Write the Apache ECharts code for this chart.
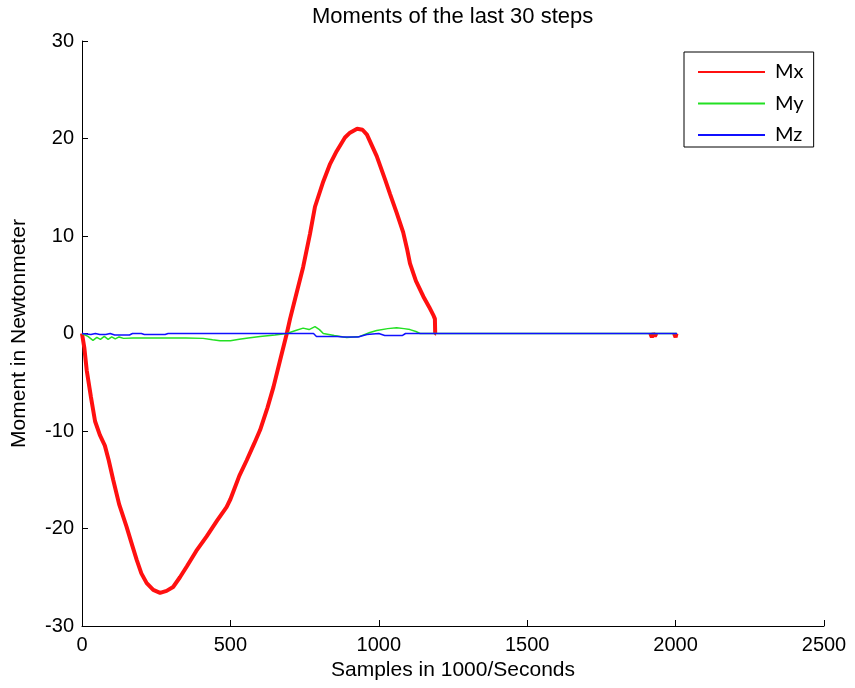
<!DOCTYPE html>
<html>
<head>
<meta charset="utf-8">
<script src="https://cdn.jsdelivr.net/npm/echarts@6/dist/echarts.min.js"></script>
<style>html,body{margin:0;padding:0;background:#fff}#c{width:855px;height:688px}</style>
</head>
<body>
<div id="c"></div>
<script>
var title = 'Moments of the last 30 steps';
var xName = 'Samples in 1000/Seconds';
var yName = 'Moment in Newtonmeter';
var seriesNames = ['Mx', 'My', 'Mz'];
var xTicks = [0, 500, 1000, 1500, 2000, 2500];
var yTicks = [-30, -20, -10, 0, 10, 20, 30];

// '-' marks a gap where the red trace is hidden under the blue one
var mxSamples = [0, 8, 16, 30, 44, 60, 77, 90, 105, 125, 150, 170, 184, 200, 218, 240, 263, 285, 307, 330, 353, 385, 420, 455, 487, 500, 510, 530, 555, 580, 600, 625, 645, 667, 690, 701, 720, 745, 768, 785, 813, 836, 858, 886, 903, 927, 945, 960, 993, 1021, 1038, 1060, 1082, 1095, 1105, 1125, 1150, 1170, 1185, 1189, 1190, 1193, 1500, 1915, 1920, 1925, 1930, 1935, 1940, 1995, 2000, 2003];
var mxValues  = [0, -1.5, -3.8, -6.5, -9.0, -10.4, -11.5, -13, -15, -17.5, -19.8, -21.8, -23.2, -24.6, -25.6, -26.3, -26.6, -26.4, -26, -25, -23.9, -22.3, -20.8, -19.2, -17.8, -17.0, -16.2, -14.6, -13, -11.3, -9.9, -7.6, -5.5, -2.8, 0, 1.5, 3.8, 6.8, 10.2, 13.0, 15.6, 17.4, 18.7, 20.1, 20.6, 21, 20.9, 20.4, 18.2, 15.8, 14.3, 12.4, 10.4, 8.7, 7.2, 5.4, 3.8, 2.7, 1.8, 1.5, 0, 0, '-', 0, -0.4, 0, -0.3, 0, '-', 0, -0.4, 0];

var mySamples = [0, 20, 37, 50, 62, 75, 88, 100, 112, 125, 140, 172, 250, 350, 408, 440, 465, 500, 530, 560, 600, 650, 690, 720, 745, 765, 785, 800, 813, 850, 892, 936, 970, 993, 1030, 1060, 1085, 1105, 1125, 1139, 1190, 1915, 1920, 1925, 1995, 2000, 2003];
var myValues  = [0, -0.3, -0.7, -0.4, -0.6, -0.3, -0.6, -0.35, -0.55, -0.35, -0.5, -0.45, -0.45, -0.45, -0.5, -0.65, -0.75, -0.75, -0.6, -0.45, -0.3, -0.15, 0, 0.3, 0.55, 0.4, 0.7, 0.4, 0, -0.2, -0.4, -0.3, 0.1, 0.3, 0.5, 0.6, 0.5, 0.4, 0.2, 0, 0, 0, 0.2, 0, 0, 0.15, 0];

var mzSamples = [0, 30, 45, 60, 80, 95, 110, 160, 170, 200, 210, 280, 290, 780, 790, 860, 880, 930, 960, 1000, 1020, 1080, 1090, 1915, 1920, 1925, 2005];
var mzValues  = [0, -0.1, 0, -0.1, -0.1, 0, -0.15, -0.15, 0, 0, -0.1, -0.1, 0, 0, -0.3, -0.3, -0.35, -0.35, -0.1, 0, -0.2, -0.2, 0, 0, 0.15, 0, 0];

function pairs(xs, ys) { return xs.map(function (x, i) { return [x, ys[i]]; }); }

var chart = echarts.init(document.getElementById('c'), null, {renderer: 'canvas'});
var font = 'Liberation Sans, Arial, sans-serif';
chart.setOption({
  animation: false,
  backgroundColor: '#fff',
  title: {
    text: title, left: 307, top: 1,
    textStyle: {fontFamily: font, fontSize: 22, fontWeight: 'normal', color: '#000'}
  },
  legend: {
    orient: 'vertical', left: 684, top: 52,
    padding: [10, 10, 2, 14], itemGap: 11.5,
    itemWidth: 67, itemHeight: 2, icon: 'rect',
    borderColor: '#000', borderWidth: 1, backgroundColor: '#fff',
    textStyle: {fontFamily: 'Lato, Open Sans, sans-serif', fontSize: 20, lineHeight: 20, color: '#000', padding: [0, 0, 0, 5]},
    data: seriesNames
  },
  grid: {left: 82, right: 31, top: 41, bottom: 62, containLabel: false},
  xAxis: {
    type: 'value', min: xTicks[0], max: xTicks[xTicks.length - 1], interval: 500,
    name: xName, nameLocation: 'middle', nameGap: 34,
    nameTextStyle: {fontFamily: font, fontSize: 21, color: '#000'},
    axisLine: {show: true, onZero: false, lineStyle: {color: '#000', width: 1}},
    axisTick: {show: true, inside: true, length: 6, lineStyle: {color: '#000'}},
    axisLabel: {fontFamily: font, fontSize: 20, color: '#000', margin: 9,
      formatter: function (v) { return String(v); }},
    splitLine: {show: false}
  },
  yAxis: {
    type: 'value', min: yTicks[0], max: yTicks[yTicks.length - 1], interval: 10,
    name: yName, nameLocation: 'middle', nameGap: 52, nameRotate: 90,
    nameTextStyle: {fontFamily: font, fontSize: 21, color: '#000'},
    axisLine: {show: true, onZero: false, lineStyle: {color: '#000', width: 1}},
    axisTick: {show: true, inside: true, length: 6, lineStyle: {color: '#000'}},
    axisLabel: {fontFamily: font, fontSize: 20, color: '#000', margin: 8,
      formatter: function (v) { return String(v); }},
    splitLine: {show: false}
  },
  series: [
    {name: seriesNames[0], type: 'line', data: pairs(mxSamples, mxValues), showSymbol: false, symbol: 'none',
     connectNulls: false, lineStyle: {color: '#ff1010', width: 4}, itemStyle: {color: '#ff1010'}, z: 2},
    {name: seriesNames[1], type: 'line', data: pairs(mySamples, myValues), showSymbol: false, symbol: 'none',
     lineStyle: {color: '#22e022', width: 1.5}, itemStyle: {color: '#22e022'}, z: 3},
    {name: seriesNames[2], type: 'line', data: pairs(mzSamples, mzValues), showSymbol: false, symbol: 'none',
     lineStyle: {color: '#1010ff', width: 1.5}, itemStyle: {color: '#1010ff'}, z: 4}
  ]
});
</script>
</body>
</html>
